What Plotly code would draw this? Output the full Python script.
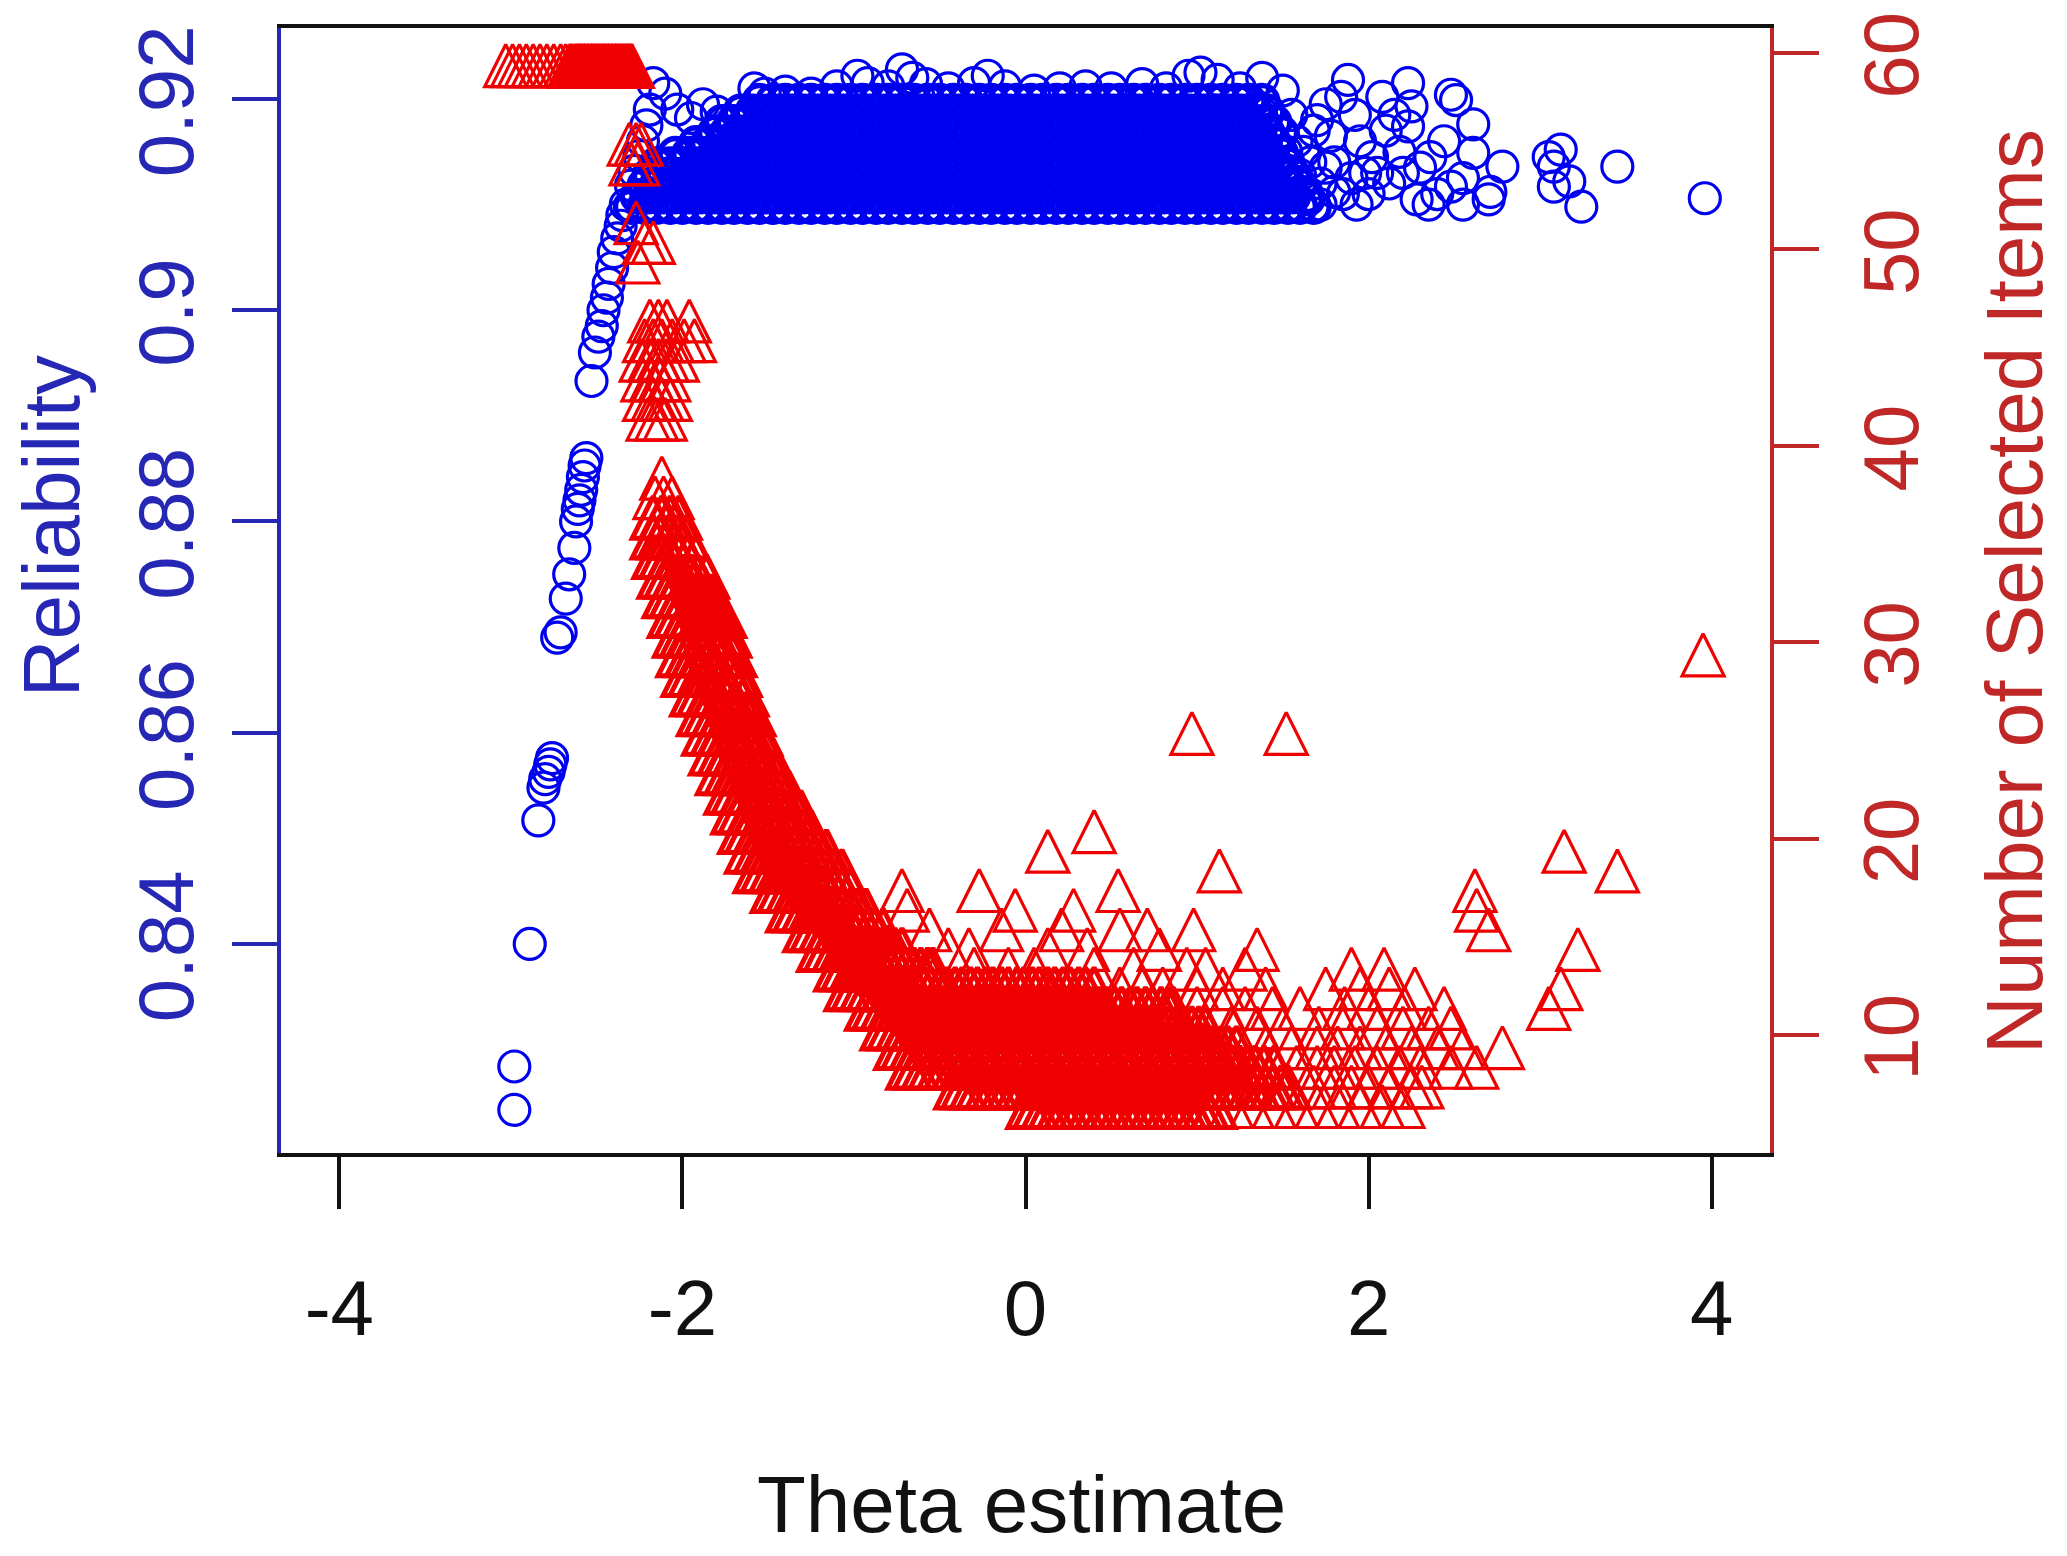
import plotly.graph_objects as go

FONT = "Liberation Sans, Arial, sans-serif"
BLUE = "#0000F0"
RED = "#F00000"
BLUE_AX = "#2727B5"
RED_AX = "#C02828"

# ---------------- ticks ----------------
theta_ticks = [-4, -2, 0, 2, 4]
theta_ticktext = ["-4", "-2", "0", "2", "4"]
rel_ticks = [0.84, 0.86, 0.88, 0.90, 0.92]
rel_ticktext = ["0.84", "0.86", "0.88", "0.9", "0.92"]
item_ticks = [10, 20, 30, 40, 50, 60]

# ---------------- Reliability: individual circles (theta, reliability) ----------------
blue_x = [-2.98, -2.98, -2.89, -2.84, -2.81, -2.80, -2.78, -2.77, -2.76,
          -2.73, -2.71, -2.68, -2.66, -2.63, -2.62, -2.61, -2.60, -2.59, -2.58, -2.57, -2.56,
          -2.53, -2.51, -2.49, -2.47, -2.46, -2.44, -2.43, -2.41, -2.40, -2.38, -2.36, -2.35, -2.33,
          -2.30, -2.28, -2.25, -2.23, -2.21, -2.19, -2.17, -2.10, -2.03, -1.95, -1.88, -1.80,
          -1.58, -1.52, -1.40, -1.25, -1.10, -0.98, -0.92, -0.80, -0.72, -0.66, -0.58, -0.45,
          -0.30, -0.22, -0.12, 0.05, 0.20, 0.35, 0.50, 0.68, 0.82, 0.95, 1.02, 1.12, 1.25, 1.38, 1.50,
          1.52, 1.55, 1.58, 1.60, 1.66, 1.72, 1.75, 1.80,
          1.62, 1.65, 1.68, 1.70, 1.72, 1.75, 1.78, 1.80, 1.84, 1.85, 1.88, 1.90, 1.92, 1.93, 1.95,
          1.98, 2.00, 2.02, 2.05, 2.08, 2.10, 2.12, 2.15, 2.18, 2.20, 2.23, 2.25, 2.23, 2.28, 2.30,
          2.35, 2.36, 2.40, 2.44, 2.48, 2.48, 2.51, 2.55, 2.55, 2.61, 2.61, 2.70, 2.71, 2.78,
          3.05, 3.08, 3.12, 3.08, 3.17, 3.24, 3.45, 3.96]
blue_r = [0.8243, 0.8284, 0.8400, 0.8517, 0.8548, 0.8556, 0.8563, 0.8570, 0.8576,
          0.8690, 0.8695, 0.8727, 0.8750, 0.8775, 0.8800, 0.8812, 0.8820, 0.8830, 0.8842, 0.8853, 0.8860,
          0.8933, 0.8960, 0.8975, 0.8985, 0.9000, 0.9012, 0.9025, 0.9040, 0.9055, 0.9068, 0.9080, 0.9090, 0.9100,
          0.9118, 0.9132, 0.9146, 0.9160, 0.9175, 0.9190, 0.9215, 0.9205, 0.9190, 0.9182, 0.9195, 0.9188,
          0.9210, 0.9205, 0.9207, 0.9205, 0.9212, 0.9222, 0.9215, 0.9212, 0.9228, 0.9220, 0.9214, 0.9210,
          0.9215, 0.9222, 0.9212, 0.9208, 0.9210, 0.9212, 0.9210, 0.9214, 0.9210, 0.9222, 0.9225, 0.9218, 0.9210, 0.9220, 0.9208,
          0.9150, 0.9185, 0.9160, 0.9128, 0.9140, 0.9100, 0.9135, 0.9112,
          0.9150, 0.9105, 0.9170, 0.9180, 0.9120, 0.9195, 0.9165, 0.9140, 0.9202, 0.9110, 0.9218, 0.9125, 0.9185, 0.9100, 0.9160,
          0.9130, 0.9110, 0.9145, 0.9130, 0.9202, 0.9170, 0.9120, 0.9185, 0.9150, 0.9130, 0.9215, 0.9193, 0.9174, 0.9105, 0.9135,
          0.9100, 0.9145, 0.9110, 0.9160, 0.9204, 0.9117, 0.9199, 0.9100, 0.9125, 0.9176, 0.9149, 0.9105, 0.9112, 0.9136,
          0.9145, 0.9136, 0.9152, 0.9117, 0.9122, 0.9098, 0.9136, 0.9106]

# ---------------- Reliability: solid band, read row by row ----------------
blue_row_r = [0.9098, 0.9108, 0.9118, 0.9128, 0.9138, 0.9148, 0.9158, 0.9168, 0.9178, 0.9188, 0.9198]
blue_row_x = [
    [-2.30, -2.22, -2.15, -2.07, -2.00, -1.92, -1.85, -1.77, -1.70, -1.62, -1.55, -1.47, -1.40, -1.32, -1.25,
     -1.17, -1.10, -1.02, -0.95, -0.87, -0.80, -0.72, -0.65, -0.57, -0.50, -0.42, -0.35, -0.27, -0.20, -0.12,
     -0.05, 0.03, 0.10, 0.18, 0.25, 0.33, 0.40, 0.48, 0.55, 0.63, 0.70, 0.78, 0.85, 0.93, 1.00, 1.08, 1.15,
     1.23, 1.30, 1.38, 1.45, 1.53, 1.60, 1.68],
    [-2.26, -2.19, -2.11, -2.04, -1.96, -1.89, -1.81, -1.74, -1.66, -1.59, -1.51, -1.44, -1.36, -1.29, -1.21,
     -1.14, -1.06, -0.99, -0.91, -0.84, -0.76, -0.69, -0.61, -0.54, -0.46, -0.39, -0.31, -0.24, -0.16, -0.09,
     -0.01, 0.06, 0.14, 0.21, 0.29, 0.36, 0.44, 0.51, 0.59, 0.66, 0.74, 0.81, 0.89, 0.96, 1.04, 1.11, 1.19,
     1.26, 1.34, 1.41, 1.49, 1.56, 1.64],
    [-2.22, -2.15, -2.07, -2.00, -1.92, -1.85, -1.77, -1.70, -1.62, -1.55, -1.47, -1.40, -1.32, -1.25,
     -1.17, -1.10, -1.02, -0.95, -0.87, -0.80, -0.72, -0.65, -0.57, -0.50, -0.42, -0.35, -0.27, -0.20, -0.12,
     -0.05, 0.03, 0.10, 0.18, 0.25, 0.33, 0.40, 0.48, 0.55, 0.63, 0.70, 0.78, 0.85, 0.93, 1.00, 1.08, 1.15,
     1.23, 1.30, 1.38, 1.45, 1.53, 1.60],
    [-2.19, -2.11, -2.04, -1.96, -1.89, -1.81, -1.74, -1.66, -1.59, -1.51, -1.44, -1.36, -1.29, -1.21,
     -1.14, -1.06, -0.99, -0.91, -0.84, -0.76, -0.69, -0.61, -0.54, -0.46, -0.39, -0.31, -0.24, -0.16, -0.09,
     -0.01, 0.06, 0.14, 0.21, 0.29, 0.36, 0.44, 0.51, 0.59, 0.66, 0.74, 0.81, 0.89, 0.96, 1.04, 1.11, 1.19,
     1.26, 1.34, 1.41, 1.49, 1.56],
    [-2.15, -2.07, -2.00, -1.92, -1.85, -1.77, -1.70, -1.62, -1.55, -1.47, -1.40, -1.32, -1.25,
     -1.17, -1.10, -1.02, -0.95, -0.87, -0.80, -0.72, -0.65, -0.57, -0.50, -0.42, -0.35, -0.27, -0.20, -0.12,
     -0.05, 0.03, 0.10, 0.18, 0.25, 0.33, 0.40, 0.48, 0.55, 0.63, 0.70, 0.78, 0.85, 0.93, 1.00, 1.08, 1.15,
     1.23, 1.30, 1.38, 1.45, 1.53],
    [-2.04, -1.96, -1.89, -1.81, -1.74, -1.66, -1.59, -1.51, -1.44, -1.36, -1.29, -1.21,
     -1.14, -1.06, -0.99, -0.91, -0.84, -0.76, -0.69, -0.61, -0.54, -0.46, -0.39, -0.31, -0.24, -0.16, -0.09,
     -0.01, 0.06, 0.14, 0.21, 0.29, 0.36, 0.44, 0.51, 0.59, 0.66, 0.74, 0.81, 0.89, 0.96, 1.04, 1.11, 1.19,
     1.26, 1.34, 1.41, 1.49],
    [-1.92, -1.85, -1.77, -1.70, -1.62, -1.55, -1.47, -1.40, -1.32, -1.25,
     -1.17, -1.10, -1.02, -0.95, -0.87, -0.80, -0.72, -0.65, -0.57, -0.50, -0.42, -0.35, -0.27, -0.20, -0.12,
     -0.05, 0.03, 0.10, 0.18, 0.25, 0.33, 0.40, 0.48, 0.55, 0.63, 0.70, 0.78, 0.85, 0.93, 1.00, 1.08, 1.15,
     1.23, 1.30, 1.38, 1.45],
    [-1.81, -1.74, -1.66, -1.59, -1.51, -1.44, -1.36, -1.29, -1.21,
     -1.14, -1.06, -0.99, -0.91, -0.84, -0.76, -0.69, -0.61, -0.54, -0.46, -0.39, -0.31, -0.24, -0.16, -0.09,
     -0.01, 0.06, 0.14, 0.21, 0.29, 0.36, 0.44, 0.51, 0.59, 0.66, 0.74, 0.81, 0.89, 0.96, 1.04, 1.11, 1.19,
     1.26, 1.34, 1.41, 1.49],
    [-1.77, -1.70, -1.62, -1.55, -1.47, -1.40, -1.32, -1.25,
     -1.17, -1.10, -1.02, -0.95, -0.87, -0.80, -0.72, -0.65, -0.57, -0.50, -0.42, -0.35, -0.27, -0.20, -0.12,
     -0.05, 0.03, 0.10, 0.18, 0.25, 0.33, 0.40, 0.48, 0.55, 0.63, 0.70, 0.78, 0.85, 0.93, 1.00, 1.08, 1.15,
     1.23, 1.30, 1.38, 1.45],
    [-1.66, -1.59, -1.51, -1.44, -1.36, -1.29, -1.21,
     -1.14, -1.06, -0.99, -0.91, -0.84, -0.76, -0.69, -0.61, -0.54, -0.46, -0.39, -0.31, -0.24, -0.16, -0.09,
     -0.01, 0.06, 0.14, 0.21, 0.29, 0.36, 0.44, 0.51, 0.59, 0.66, 0.74, 0.81, 0.89, 0.96, 1.04, 1.11, 1.19,
     1.26, 1.34, 1.41],
    [-1.55, -1.47, -1.40, -1.32, -1.25,
     -1.17, -1.10, -1.02, -0.95, -0.87, -0.80, -0.72, -0.65, -0.57, -0.50, -0.42, -0.35, -0.27, -0.20, -0.12,
     -0.05, 0.03, 0.10, 0.18, 0.25, 0.33, 0.40, 0.48, 0.55, 0.63, 0.70, 0.78, 0.85, 0.93, 1.00, 1.08, 1.15,
     1.23, 1.30, 1.38],
]

# ---------------- Number of selected items: solid part, theta read at each count ----------------
red_levels = [59, 36, 35, 34, 33, 32, 31, 30, 29, 28, 27, 26, 25, 24, 23, 22, 21, 20, 19, 18, 17, 16,
              15, 14, 13, 12, 11, 10, 9, 8, 7, 6]
red_level_x = [
    [-2.65, -2.62, -2.60, -2.58, -2.56, -2.54, -2.52, -2.50, -2.48, -2.46, -2.44, -2.42, -2.40, -2.38, -2.36,
     -2.34, -2.32, -2.30],
    [-2.17, -2.12, -2.07, -2.02],
    [-2.17, -2.13, -2.08, -2.03, -1.98],
    [-2.16, -2.12, -2.07, -2.02, -1.97, -1.92],
    [-2.13, -2.09, -2.04, -2.00, -1.95, -1.91, -1.86],
    [-2.10, -2.06, -2.01, -1.97, -1.92, -1.88, -1.83],
    [-2.07, -2.03, -1.98, -1.94, -1.89, -1.85, -1.80, -1.76],
    [-2.04, -2.00, -1.95, -1.91, -1.86, -1.82, -1.77, -1.73],
    [-2.02, -1.97, -1.93, -1.88, -1.84, -1.79, -1.75, -1.70],
    [-1.99, -1.95, -1.90, -1.86, -1.81, -1.77, -1.72, -1.67],
    [-1.94, -1.90, -1.85, -1.81, -1.76, -1.72, -1.67, -1.63],
    [-1.90, -1.86, -1.81, -1.77, -1.72, -1.68, -1.63, -1.59],
    [-1.87, -1.82, -1.78, -1.73, -1.69, -1.64, -1.60, -1.55],
    [-1.83, -1.78, -1.74, -1.69, -1.65, -1.60, -1.56, -1.51],
    [-1.79, -1.74, -1.70, -1.65, -1.61, -1.56, -1.52, -1.47, -1.44],
    [-1.74, -1.70, -1.65, -1.61, -1.56, -1.52, -1.47, -1.43, -1.38],
    [-1.70, -1.66, -1.61, -1.57, -1.52, -1.48, -1.43, -1.39, -1.34, -1.31],
    [-1.66, -1.62, -1.57, -1.53, -1.48, -1.44, -1.39, -1.35, -1.30, -1.25],
    [-1.62, -1.57, -1.53, -1.48, -1.44, -1.39, -1.35, -1.30, -1.26, -1.21, -1.16],
    [-1.57, -1.53, -1.48, -1.44, -1.39, -1.35, -1.30, -1.26, -1.21, -1.17, -1.12, -1.07],
    [-1.47, -1.43, -1.38, -1.34, -1.29, -1.25, -1.20, -1.16, -1.11, -1.07, -1.02],
    [-1.38, -1.34, -1.29, -1.25, -1.20, -1.16, -1.11, -1.07, -1.02, -0.98, -0.93],
    [-1.28, -1.24, -1.19, -1.15, -1.10, -1.06, -1.01, -0.97, -0.92, -0.88, -0.83],
    [-1.20, -1.16, -1.11, -1.07, -1.02, -0.98, -0.93, -0.89, -0.84, -0.80, -0.76, -0.72],
    [-1.10, -1.06, -1.01, -0.97, -0.92, -0.88, -0.83, -0.79, -0.74, -0.70, -0.65, -0.61, -0.57, -0.54],
    [-1.04, -1.00, -0.95, -0.91, -0.86, -0.82, -0.77, -0.73, -0.68, -0.64, -0.59, -0.55, -0.50, -0.46, -0.41,
     -0.37, -0.32, -0.28, -0.23, -0.19, -0.14, -0.10, -0.05, -0.01, 0.04, 0.08, 0.13, 0.17, 0.22, 0.26, 0.31,
     0.35, 0.40],
    [-0.92, -0.88, -0.83, -0.79, -0.74, -0.70, -0.65, -0.61, -0.56, -0.52, -0.47, -0.43, -0.38, -0.34, -0.29,
     -0.25, -0.20, -0.16, -0.11, -0.07, -0.02, 0.02, 0.07, 0.11, 0.16, 0.20, 0.25, 0.29, 0.34, 0.38, 0.43,
     0.47, 0.52, 0.56, 0.61, 0.65, 0.70, 0.74, 0.79, 0.83, 0.86],
    [-0.83, -0.79, -0.74, -0.70, -0.65, -0.61, -0.56, -0.52, -0.47, -0.43, -0.38, -0.34, -0.29, -0.25, -0.20,
     -0.16, -0.11, -0.07, -0.02, 0.02, 0.07, 0.11, 0.16, 0.20, 0.25, 0.29, 0.34, 0.38, 0.43, 0.47, 0.52,
     0.56, 0.61, 0.65, 0.70, 0.74, 0.79, 0.83, 0.88, 0.92, 0.97, 1.01, 1.05],
    [-0.75, -0.71, -0.66, -0.62, -0.57, -0.53, -0.48, -0.44, -0.39, -0.35, -0.30, -0.26, -0.21, -0.17, -0.12,
     -0.08, -0.03, 0.01, 0.06, 0.10, 0.15, 0.19, 0.24, 0.28, 0.33, 0.37, 0.42, 0.46, 0.51, 0.55, 0.60, 0.64,
     0.69, 0.73, 0.78, 0.82, 0.87, 0.91, 0.96, 1.00, 1.05, 1.09, 1.14, 1.18, 1.23],
    [-0.68, -0.64, -0.59, -0.55, -0.50, -0.46, -0.41, -0.37, -0.32, -0.28, -0.23, -0.19, -0.14, -0.10, -0.05,
     -0.01, 0.04, 0.08, 0.13, 0.17, 0.22, 0.26, 0.31, 0.35, 0.40, 0.44, 0.49, 0.53, 0.58, 0.62, 0.67, 0.71,
     0.76, 0.80, 0.85, 0.89, 0.94, 0.98, 1.03, 1.07, 1.12, 1.16, 1.21, 1.25, 1.30, 1.34, 1.39, 1.45],
    [-0.40, -0.36, -0.31, -0.27, -0.22, -0.18, -0.13, -0.09, -0.04, 0.00, 0.05, 0.09, 0.14, 0.18, 0.23, 0.27,
     0.32, 0.36, 0.41, 0.45, 0.50, 0.54, 0.59, 0.63, 0.68, 0.72, 0.77, 0.81, 0.86, 0.90, 0.95, 0.99, 1.04,
     1.08, 1.13, 1.17, 1.22, 1.26, 1.31, 1.35, 1.40, 1.44, 1.49, 1.53],
    [0.02, 0.06, 0.11, 0.15, 0.20, 0.24, 0.29, 0.33, 0.38, 0.42, 0.47, 0.51, 0.56, 0.60, 0.65, 0.69, 0.74,
     0.78, 0.83, 0.87, 0.92, 0.96, 1.01, 1.05, 1.10],
]

# ---------------- Number of selected items: individual triangles (theta, count) ----------------
red_sparse_x = [-3.03, -2.99, -2.95, -2.91, -2.87, -2.83, -2.79, -2.75, -2.71, -2.68,
                -2.31, -2.27, -2.24, -2.30, -2.26, -2.27, -2.22, -2.17, -2.26,
                -2.19, -2.14, -2.09, -1.96, -2.22, -2.17, -2.12, -2.06, -1.99, -1.93,
                -2.24, -2.19, -2.14, -2.09, -2.03, -2.23, -2.18, -2.13, -2.08,
                -2.22, -2.17, -2.12, -2.07, -2.20, -2.15, -2.10, -2.12, -2.16, -2.11, -2.06,
                3.95, 0.97, 1.52, 0.40, 0.13, 3.14, 1.13, 3.45,
                -0.72, -0.27, 0.54, 2.62, -0.69, -0.06, 0.28, 2.63,
                -0.56, -0.14, 0.21, 0.55, 0.71, 0.98, 2.70,
                -0.45, -0.33, 0.13, 0.36, 0.78, 1.35, 3.22,
                -0.30, -0.10, 0.05, 0.40, 0.63, 0.94, 1.05, 1.28, 1.90, 2.09,
                0.55, 0.68, 0.80, 1.00, 1.15, 1.40, 1.75, 1.95, 2.12, 2.27, 3.12,
                1.00, 1.15, 1.28, 1.44, 1.60, 1.86, 2.00, 2.21, 2.44, 3.05,
                1.20, 1.35, 1.50, 1.71, 1.85, 2.05, 2.20, 2.35, 2.48,
                1.40, 1.55, 1.70, 1.82, 1.95, 2.10, 2.25, 2.40, 2.55, 2.78,
                1.58, 1.70, 1.80, 1.92, 2.05, 2.18, 2.30, 2.48, 2.63,
                1.68, 1.80, 1.90, 2.00, 2.12, 2.25, 2.31,
                1.20, 1.32, 1.45, 1.58, 1.70, 1.82, 1.95, 2.08, 2.20]
red_sparse_n = [59, 59, 59, 59, 59, 59, 59, 59, 59, 59,
                55, 55, 55, 54, 54, 51, 50, 50, 49,
                46, 46, 46, 46, 45, 45, 45, 45, 45, 45,
                44, 44, 44, 44, 44, 43, 43, 43, 43,
                42, 42, 42, 42, 41, 41, 41, 38, 37, 37, 37,
                29, 25, 25, 20, 19, 19, 18, 18,
                17, 17, 17, 17, 16, 16, 16, 16,
                15, 15, 15, 15, 15, 15, 15,
                14, 14, 14, 14, 14, 14, 14,
                13, 13, 13, 13, 13, 13, 13, 13, 13, 13,
                12, 12, 12, 12, 12, 12, 12, 12, 12, 12, 12,
                11, 11, 11, 11, 11, 11, 11, 11, 11, 11,
                10, 10, 10, 10, 10, 10, 10, 10, 10,
                9, 9, 9, 9, 9, 9, 9, 9, 9, 9,
                8, 8, 8, 8, 8, 8, 8, 8, 8,
                7, 7, 7, 7, 7, 7, 7,
                6, 6, 6, 6, 6, 6, 6, 6, 6]

# ---------------- assemble ----------------
band_x, band_r = [], []
for r, xs in zip(blue_row_r, blue_row_x):
    band_x += xs
    band_r += [r] * len(xs)

solid_x, solid_n = [], []
for n, xs in zip(red_levels, red_level_x):
    solid_x += xs
    solid_n += [n] * len(xs)

TRI_SIZE = 42
ITEM_RANGE = [3.99, 61.27]
PLOT_H = 1125
# arrow-up marker has its apex on the point; shift its axis so the centroid sits on the value
shift = (2.0 / 3.0) * TRI_SIZE * (ITEM_RANGE[1] - ITEM_RANGE[0]) / PLOT_H

circle = dict(symbol="circle-open", size=31, color=BLUE)
tri = dict(symbol="arrow-up-open", size=TRI_SIZE, color=RED)

fig = go.Figure()
fig.add_trace(go.Scatter(x=band_x, y=band_r, mode="markers", yaxis="y", showlegend=False,
                         hoverinfo="skip", marker=dict(**circle, line=dict(width=5.5, color=BLUE))))
fig.add_trace(go.Scatter(x=blue_x, y=blue_r, mode="markers", yaxis="y", showlegend=False,
                         hoverinfo="skip", marker=dict(**circle, line=dict(width=3.2, color=BLUE))))
# empty trace that only registers the right-hand (count) axis so it gets drawn
fig.add_trace(go.Scatter(x=[], y=[], mode="markers", yaxis="y2", showlegend=False, hoverinfo="skip"))
fig.add_trace(go.Scatter(x=solid_x, y=solid_n, mode="markers", yaxis="y3", showlegend=False,
                         hoverinfo="skip", marker=dict(**tri, line=dict(width=5.0, color=RED))))
fig.add_trace(go.Scatter(x=red_sparse_x, y=red_sparse_n, mode="markers", yaxis="y3", showlegend=False,
                         hoverinfo="skip", marker=dict(**tri, line=dict(width=3.2, color=RED))))

fig.update_layout(
    width=2067, height=1556, autosize=False,
    margin=dict(l=281, r=297, t=28, b=403, pad=0, autoexpand=False),
    paper_bgcolor="white", plot_bgcolor="white",
    font=dict(family=FONT),
    xaxis=dict(
        range=[-4.34, 4.34], tickvals=theta_ticks, ticktext=theta_ticktext, ticks="outside",
        ticklen=52, tickwidth=3.5, tickcolor="#111111", showline=True, linecolor="#111111",
        linewidth=3.5, mirror=True, showgrid=False, zeroline=False, automargin=False,
        tickfont=dict(size=78, color="#111111", family=FONT), ticklabelstandoff=33,
    ),
    yaxis=dict(
        range=[0.82021, 0.92672], tickvals=rel_ticks, ticktext=rel_ticktext, tickangle=-90,
        ticks="outside", ticklen=45, tickwidth=3.5, tickcolor=BLUE_AX, showline=True,
        linecolor=BLUE_AX, linewidth=3.5, showgrid=False, zeroline=False, automargin=False,
        tickfont=dict(size=78, color=BLUE_AX, family=FONT), ticklabelstandoff=8,
        ticklabelshift=14, ticklabeloverflow="allow",
    ),
    yaxis2=dict(
        anchor="x", overlaying="y", side="right", range=ITEM_RANGE, tickvals=item_ticks,
        tickangle=-90, ticks="outside", ticklen=45, tickwidth=3.5, tickcolor=RED_AX,
        showline=True, linecolor=RED_AX, linewidth=3.5, showgrid=False, zeroline=False,
        automargin=False, tickfont=dict(size=78, color=RED_AX, family=FONT),
        ticklabelstandoff=6, ticklabelshift=14, ticklabeloverflow="allow",
    ),
    yaxis3=dict(
        anchor="x", overlaying="y", side="right",
        range=[ITEM_RANGE[0] - shift, ITEM_RANGE[1] - shift],
        visible=False, showgrid=False, zeroline=False, automargin=False,
    ),
    annotations=[
        dict(text="Theta estimate", xref="paper", yref="paper", x=0.497, y=-0.312,
             xanchor="center", yanchor="middle", showarrow=False,
             font=dict(size=80, color="#111111", family=FONT)),
        dict(text="Reliability", xref="paper", yref="paper", x=-0.1545, y=0.557, textangle=-90,
             xanchor="center", yanchor="middle", showarrow=False,
             font=dict(size=80, color=BLUE_AX, family=FONT)),
        dict(text="Number of Selected Items", xref="paper", yref="paper", x=1.1645, y=0.4996,
             textangle=-90, xanchor="center", yanchor="middle", showarrow=False,
             font=dict(size=80, color=RED_AX, family=FONT)),
    ],
)

fig.write_html("out.html", config={"displayModeBar": False},
               post_script="document.body.style.margin='0px';")
